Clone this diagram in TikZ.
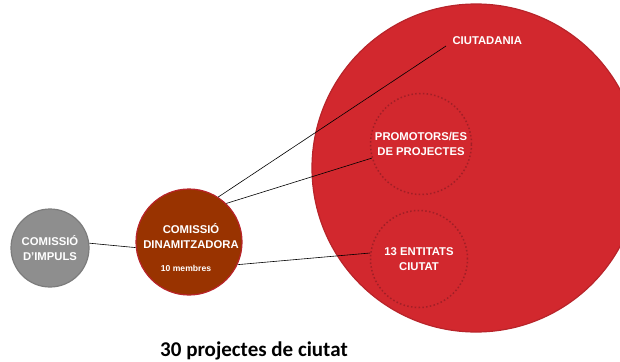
\documentclass[tikz,border=0pt]{standalone}
\usepackage{fontspec}
\setmainfont{Liberation Sans}
\newfontfamily\calibri{Carlito}
\usepackage{xcolor}
\usepackage{tikz}
\definecolor{rouge}{HTML}{D2282E}
\definecolor{rougebord}{HTML}{B8242A}
\definecolor{rougefonce}{HTML}{A11F26}
\definecolor{brun}{HTML}{993300}
\definecolor{gris}{HTML}{8E8E8E}
\definecolor{grisbord}{HTML}{7C7C7C}

\begin{document}
\begin{tikzpicture}[x=1pt,y=-1pt]
% Styles
\tikzstyle{cercle}=[circle,draw,line width=1.2pt,inner sep=0pt]
\tikzstyle{pointille}=[circle,draw=rougefonce,line width=1.5pt,dash pattern=on 1.5pt off 2.3pt,inner sep=0pt]
\tikzstyle{texte}=[text=white,align=center,font=\bfseries\fontsize{11.3}{14.5}\selectfont]
\tikzstyle{lien}=[black,line width=0.6pt]
% Cadre
\useasboundingbox (0,0) rectangle (620,361);
% Grand cercle
\begin{scope}
\clip (0,0) rectangle (620,361);
\node[cercle,fill=rouge,draw=rougebord,minimum size=328pt] (ville) at (476,168) {};
\end{scope}
% Noeuds
\node[pointille,minimum size=101pt,texte] (promo) at (421,144) {PROMOTORS/ES\\DE PROJECTES};
\node[pointille,minimum size=97pt,texte] (entitats) at (419,259) {13 ENTITATS\\CIUTAT};
\node[texte,anchor=west] (ciut) at (449,41) {CIUTADANIA};
\node[cercle,fill=brun,draw=rougebord,minimum size=106pt] (dinam) at (189,242) {};
\node[texte] (dinamtxt) at (191,236) {COMISSIÓ\\DINAMITZADORA};
\node[text=white,font=\bfseries\fontsize{8.6}{10}\selectfont] (membres) at (186,268) {10 membres};
\node[cercle,fill=gris,draw=grisbord,minimum size=78pt,texte] (impuls) at (50,248) {COMISSIÓ\\D’IMPULS};
\node[font=\calibri\bfseries\fontsize{21}{25}\selectfont] (titre) at (254,351) {30 projectes de ciutat};
% Liens
\draw[lien] (impuls.7) -- (dinam.186);
\draw[lien] (dinam.57) -- ([xshift=-3pt,yshift=-5pt]ciut.west);
\draw[lien] (dinam.46) -- (promo.196);
\draw[lien] (dinam.335) -- (entitats.173);
\end{tikzpicture}
\end{document}
